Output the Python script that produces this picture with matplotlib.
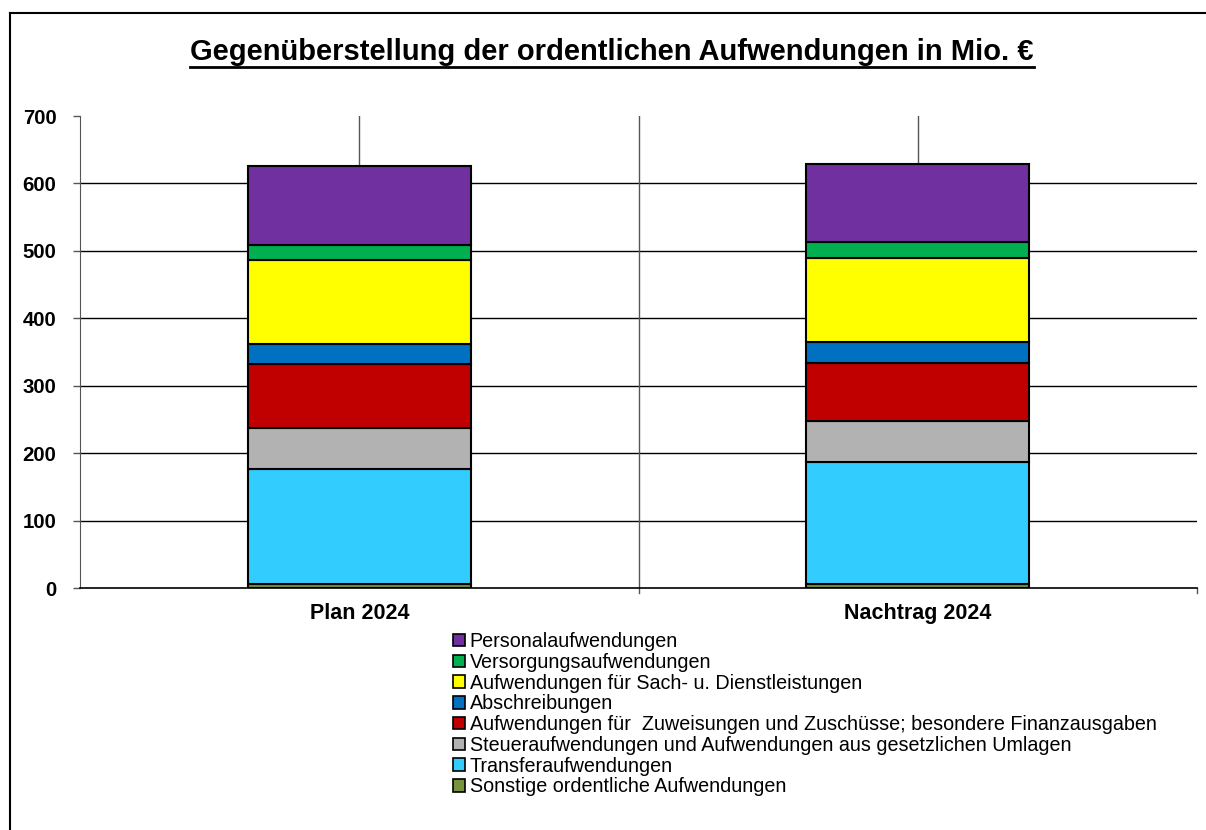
import matplotlib
matplotlib.use("Agg")
import matplotlib.pyplot as plt
from matplotlib.lines import Line2D
from matplotlib.patches import Patch

plt.rcParams['font.family'] = ['Liberation Sans', 'DejaVu Sans']

categories = ['Plan 2024', 'Nachtrag 2024']
# bottom to top
series = ['Sonstige ordentliche Aufwendungen',
          'Transferaufwendungen',
          'Steueraufwendungen und Aufwendungen aus gesetzlichen Umlagen',
          'Aufwendungen für  Zuweisungen und Zuschüsse; besondere Finanzausgaben',
          'Abschreibungen',
          'Aufwendungen für Sach- u. Dienstleistungen',
          'Versorgungsaufwendungen',
          'Personalaufwendungen']
values = [[6, 6],
          [170, 181],
          [61, 61],
          [95, 86],
          [30, 31],
          [124, 124],
          [23, 24],
          [117, 116]]
colors = ['#77933C', '#33CCFF', '#B2B2B2', '#C00000', '#0070C0', '#FFFF00', '#00B050', '#7030A0']
yticks = [0, 100, 200, 300, 400, 500, 600, 700]

fig = plt.figure(figsize=(12.06, 8.30), dpi=100)
ax = fig.add_axes([80 / 1206, 1 - 588 / 830, (1197 - 80) / 1206, (588 - 116) / 830])

x = list(range(len(categories)))
bottoms = [0] * len(categories)
for name, vals, c in zip(series, values, colors):
    ax.bar(x, vals, width=0.4, bottom=bottoms, color=c, edgecolor='black', linewidth=1.5, label=name, zorder=3)
    bottoms = [b + v for b, v in zip(bottoms, vals)]

ax.set_xlim(-0.5, 1.5)
ax.set_ylim(0, 700)
ax.set_yticks(yticks)
ax.set_yticklabels([str(t) for t in yticks], fontsize=14.7, fontweight='bold')
ax.set_xticks(x)
ax.set_xticklabels(categories, fontsize=15.5, fontweight='bold')
ax.tick_params(axis='x', length=0, pad=11)
ax.tick_params(axis='y', length=5, width=1, direction='out', pad=12, colors='#555555', labelcolor='black')

for t in yticks[1:-1]:
    ax.axhline(t, color='black', linewidth=1, zorder=1)
for xv in [0, 0.5, 1]:
    ax.axvline(xv, color='#555555', linewidth=1, zorder=1)
for xv in [0.5, 1.5]:
    ax.plot([xv, xv], [0, -8], color='#555555', linewidth=1, clip_on=False)

for s in ['top', 'right']:
    ax.spines[s].set_visible(False)
ax.spines['left'].set_color('#555555')
ax.spines['bottom'].set_color('black')
ax.spines['bottom'].set_linewidth(1.2)

handles = [Patch(facecolor=c, edgecolor='black', linewidth=1.2) for c in colors][::-1]
fig.legend(handles, series[::-1], loc='upper left', bbox_to_anchor=(453 / 1206, 1 - 632 / 830),
           frameon=False, fontsize=14.2, handlelength=0.6, handleheight=0.6, handletextpad=0.25,
           labelspacing=0.09, borderpad=0, borderaxespad=0)

title = fig.text(0.5075, 1 - 52 / 830, 'Gegenüberstellung der ordentlichen Aufwendungen in Mio. €',
                 ha='center', va='center', fontsize=21, fontweight='bold')
fig.canvas.draw()
bb = title.get_window_extent()
uy = (bb.y0 - 1) / fig.bbox.height
fig.add_artist(Line2D([bb.x0 / fig.bbox.width, bb.x1 / fig.bbox.width], [uy, uy],
                      transform=fig.transFigure, color='black', linewidth=2))

# chart frame
fig.add_artist(Line2D([10 / 1206, 1], [1 - 13 / 830, 1 - 13 / 830], transform=fig.transFigure, color='black', linewidth=1.5))
fig.add_artist(Line2D([10 / 1206, 10 / 1206], [0, 1 - 13 / 830], transform=fig.transFigure, color='black', linewidth=1.5))

fig.savefig('out.png', dpi=100)
